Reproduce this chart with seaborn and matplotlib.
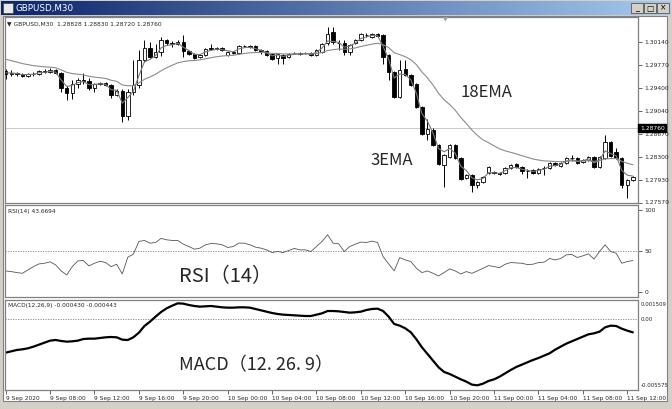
import numpy as np
import pandas as pd
import matplotlib.pyplot as plt
import seaborn as sns
from matplotlib.patches import Rectangle
from matplotlib.colors import LinearSegmentedColormap


# GBPUSD M30, 9 Sep 04:00 .. 11 Sep 12:30 (114 bars)
opens = [
    1.29674, 1.29626, 1.29642, 1.29626, 1.29594, 1.29626, 1.29626, 1.29674, 1.29658, 1.29690,
    1.29642, 1.29402, 1.29322, 1.29466, 1.29530, 1.29522, 1.29402, 1.29466, 1.29482, 1.29450,
    1.29290, 1.29354, 1.28954, 1.29338, 1.29450, 1.29850, 1.30042, 1.29898, 1.29978, 1.30170,
    1.30122, 1.30106, 1.30138, 1.29994, 1.29946, 1.29898, 1.29930, 1.30042, 1.30026, 1.30042,
    1.29930, 1.29978, 1.29962, 1.30074, 1.30074, 1.30074, 1.30010, 1.29994, 1.29946, 1.29882,
    1.29930, 1.29898, 1.29962, 1.29962, 1.29962, 1.29962, 1.29930, 1.29978, 1.30122, 1.30298,
    1.30122, 1.30122, 1.29978, 1.30122, 1.30170, 1.30250, 1.30218, 1.30266, 1.30250, 1.29930,
    1.29658, 1.29258, 1.29706, 1.29610, 1.29466, 1.29098, 1.28666, 1.28730, 1.28490, 1.28170,
    1.28298, 1.28490, 1.28282, 1.27962, 1.28010, 1.27850, 1.27898, 1.28042, 1.28058, 1.28042,
    1.28042, 1.28122, 1.28186, 1.28138, 1.28074, 1.28090, 1.28042, 1.28122, 1.28122, 1.28202,
    1.28154, 1.28202, 1.28282, 1.28282, 1.28218, 1.28250, 1.28298, 1.28138, 1.28282, 1.28538,
    1.28378, 1.28282, 1.27850, 1.27930,
]
highs = [
    1.29706, 1.29690, 1.29658, 1.29642, 1.29642, 1.29658, 1.29690, 1.29706, 1.29722, 1.29706,
    1.29658, 1.29434, 1.29530, 1.29562, 1.29642, 1.29562, 1.29482, 1.29498, 1.29498, 1.29466,
    1.29386, 1.29386, 1.29386, 1.29850, 1.30010, 1.30170, 1.30138, 1.30106, 1.30218, 1.30186,
    1.30154, 1.30170, 1.30250, 1.30010, 1.29962, 1.29946, 1.30042, 1.30106, 1.30058, 1.30058,
    1.29994, 1.29994, 1.30090, 1.30090, 1.30090, 1.30090, 1.30026, 1.30010, 1.29962, 1.29962,
    1.29946, 1.29962, 1.29978, 1.29978, 1.29978, 1.29978, 1.30026, 1.30122, 1.30378, 1.30378,
    1.30170, 1.30170, 1.30106, 1.30186, 1.30282, 1.30282, 1.30282, 1.30282, 1.30266, 1.29946,
    1.29674, 1.29850, 1.29850, 1.29626, 1.29482, 1.29114, 1.28906, 1.28762, 1.28506, 1.28346,
    1.28506, 1.28506, 1.28298, 1.28026, 1.28026, 1.27914, 1.27994, 1.28154, 1.28074, 1.28058,
    1.28138, 1.28186, 1.28202, 1.28154, 1.28106, 1.28106, 1.28122, 1.28154, 1.28218, 1.28218,
    1.28218, 1.28298, 1.28330, 1.28298, 1.28266, 1.28314, 1.28314, 1.28314, 1.28650, 1.28554,
    1.28442, 1.28298, 1.27946, 1.27994,
]
lows = [
    1.29546, 1.29594, 1.29594, 1.29578, 1.29578, 1.29594, 1.29610, 1.29642, 1.29642, 1.29626,
    1.29338, 1.29210, 1.29226, 1.29402, 1.29466, 1.29370, 1.29338, 1.29450, 1.29434, 1.29242,
    1.29274, 1.28858, 1.28890, 1.29290, 1.29402, 1.29818, 1.29882, 1.29882, 1.29914, 1.30090,
    1.30058, 1.30090, 1.29898, 1.29930, 1.29866, 1.29882, 1.29914, 1.30010, 1.30010, 1.29994,
    1.29914, 1.29946, 1.29946, 1.30058, 1.30042, 1.29994, 1.29946, 1.29914, 1.29850, 1.29786,
    1.29786, 1.29882, 1.29946, 1.29930, 1.29946, 1.29914, 1.29914, 1.29962, 1.30090, 1.30106,
    1.30010, 1.29930, 1.29930, 1.30106, 1.30154, 1.30218, 1.30202, 1.30218, 1.29786, 1.29530,
    1.29242, 1.29242, 1.29594, 1.29434, 1.29082, 1.28650, 1.28570, 1.28474, 1.28170, 1.27818,
    1.28282, 1.28266, 1.27930, 1.27946, 1.27738, 1.27802, 1.27882, 1.28026, 1.28026, 1.28010,
    1.28026, 1.28106, 1.28122, 1.28026, 1.27962, 1.28026, 1.28026, 1.28010, 1.28106, 1.28154,
    1.28138, 1.28186, 1.28234, 1.28186, 1.28202, 1.28234, 1.28122, 1.28122, 1.28266, 1.28298,
    1.28266, 1.27802, 1.27642, 1.27914,
]
closes = [
    1.29626, 1.29642, 1.29626, 1.29594, 1.29626, 1.29622, 1.29674, 1.29658, 1.29690, 1.29642,
    1.29402, 1.29322, 1.29466, 1.29530, 1.29522, 1.29402, 1.29466, 1.29482, 1.29450, 1.29290,
    1.29354, 1.28954, 1.29338, 1.29450, 1.29850, 1.30042, 1.29898, 1.29978, 1.30170, 1.30122,
    1.30106, 1.30138, 1.29994, 1.29946, 1.29882, 1.29930, 1.30026, 1.30026, 1.30042, 1.30010,
    1.29978, 1.29962, 1.30074, 1.30070, 1.30058, 1.30010, 1.29978, 1.29930, 1.29866, 1.29946,
    1.29882, 1.29946, 1.29958, 1.29946, 1.29958, 1.29930, 1.30010, 1.30106, 1.30266, 1.30138,
    1.30118, 1.29978, 1.30090, 1.30170, 1.30266, 1.30246, 1.30266, 1.30234, 1.29898, 1.29658,
    1.29258, 1.29690, 1.29610, 1.29450, 1.29098, 1.28666, 1.28746, 1.28490, 1.28186, 1.28330,
    1.28490, 1.28282, 1.27946, 1.28010, 1.27850, 1.27898, 1.27978, 1.28138, 1.28042, 1.28026,
    1.28122, 1.28170, 1.28138, 1.28074, 1.28070, 1.28042, 1.28106, 1.28118, 1.28202, 1.28170,
    1.28202, 1.28282, 1.28278, 1.28202, 1.28250, 1.28298, 1.28138, 1.28298, 1.28538, 1.28314,
    1.28282, 1.27850, 1.27930, 1.27978,
]

# EMA values just before the first visible bar
ema3_start = 1.29660
ema18_start = 1.29890

rsi14 = [
    25.4, 24.6, 23.4, 22.5, 26.6, 30.7, 34.0, 34.8, 36.5, 32.8,
    25.4, 20.5, 30.7, 37.7, 38.1, 31.6, 34.8, 37.3, 35.7, 30.7,
    33.6, 21.7, 42.2, 45.9, 61.5, 62.7, 59.4, 60.2, 65.2, 63.5,
    62.7, 62.7, 58.2, 55.3, 52.0, 53.3, 57.4, 59.0, 58.6, 57.4,
    54.1, 55.3, 59.4, 59.4, 57.4, 54.5, 53.3, 51.2, 47.9, 49.2,
    47.9, 50.4, 52.9, 51.2, 51.2, 49.2, 55.3, 61.5, 69.7, 59.4,
    58.6, 49.2, 55.3, 58.2, 60.7, 60.2, 61.9, 60.2, 43.0, 34.0,
    25.4, 41.8, 38.9, 36.9, 28.7, 23.4, 25.4, 22.5, 19.3, 23.4,
    27.9, 25.4, 21.7, 24.6, 22.5, 25.4, 28.7, 32.0, 30.7, 29.5,
    33.6, 35.7, 35.2, 34.8, 33.2, 33.6, 35.7, 36.1, 40.6, 38.9,
    40.6, 45.1, 45.5, 41.8, 43.9, 46.3, 39.8, 49.2, 57.4, 49.2,
    47.1, 34.8, 36.9, 38.1,
]

macd = [
    -0.002635, -0.002530, -0.002425, -0.002373, -0.002294, -0.002163, -0.002006, -0.001848, -0.001691, -0.001639,
    -0.001717, -0.001770, -0.001743, -0.001691, -0.001560, -0.001534, -0.001534, -0.001481, -0.001429, -0.001402,
    -0.001429, -0.001612, -0.001639, -0.001429, -0.001061, -0.000537, -0.000196, 0.000198, 0.000565, 0.000853,
    0.001063, 0.001247, 0.001221, 0.001116, 0.001037, 0.000985, 0.001011, 0.001037, 0.000985, 0.000932,
    0.000906, 0.000906, 0.000932, 0.000932, 0.000906, 0.000801, 0.000696, 0.000591, 0.000486, 0.000407,
    0.000355, 0.000329, 0.000303, 0.000276, 0.000250, 0.000250, 0.000355, 0.000460, 0.000643, 0.000643,
    0.000617, 0.000565, 0.000512, 0.000539, 0.000591, 0.000722, 0.000801, 0.000827, 0.000643, 0.000198,
    -0.000379, -0.000511, -0.000720, -0.001035, -0.001586, -0.002216, -0.002740, -0.003265, -0.003789, -0.004157,
    -0.004314, -0.004524, -0.004734, -0.004917, -0.005153, -0.005206, -0.005075, -0.004865, -0.004734, -0.004524,
    -0.004262, -0.004000, -0.003763, -0.003580, -0.003396, -0.003212, -0.003055, -0.002871, -0.002688, -0.002399,
    -0.002163, -0.001927, -0.001743, -0.001560, -0.001376, -0.001193, -0.001114, -0.000983, -0.000642, -0.000511,
    -0.000537, -0.000747, -0.000904, -0.001035,
]

time_labels = ['9 Sep 2020', '9 Sep 08:00', '9 Sep 12:00', '9 Sep 16:00', '9 Sep 20:00',
               '10 Sep 00:00', '10 Sep 04:00', '10 Sep 08:00', '10 Sep 12:00', '10 Sep 16:00',
               '10 Sep 20:00', '11 Sep 00:00', '11 Sep 04:00', '11 Sep 08:00', '11 Sep 12:00']
price_ticks = [1.30140, 1.29770, 1.29400, 1.29040, 1.28670, 1.28300, 1.27930, 1.27570]
rsi_ticks = [100, 50, 0]
last_price = 1.28760


def ema(values, start, period):
    k = 2 / (period + 1)
    out = []
    e = start
    for v in values:
        e = e + k * (v - e)
        out.append(e)
    return out


df = pd.DataFrame({'bar': np.arange(len(closes)), 'open': opens, 'high': highs,
                   'low': lows, 'close': closes, 'rsi': rsi14, 'macd': macd})
df['ema3'] = ema(df['close'], ema3_start, 3)
df['ema18'] = ema(df['close'], ema18_start, 18)

sns.set_style('white')
plt.rcParams['font.family'] = ['DejaVu Sans']

W, H = 672, 409


def box(x0, y0, x1, y1):
    return [x0 / W, 1 - y1 / H, (x1 - x0) / W, (y1 - y0) / H]


fig = plt.figure(figsize=(W / 100, H / 100), dpi=100)
fig.patch.set_facecolor('#d4d0c8')

# window title bar
tb = fig.add_axes(box(1, 1, 671, 15))
cmap = LinearSegmentedColormap.from_list('cap', ['#0a246a', '#a6caf0'])
tb.imshow(np.linspace(0, 1, 256).reshape(1, -1), aspect='auto', cmap=cmap, extent=[0, 1, 0, 1])
tb.set_axis_off()
fig.add_artist(Rectangle((3 / W, 1 - 13 / H), 10 / W, 10 / H, transform=fig.transFigure,
                         facecolor='#e8e8e8', edgecolor='#404040', lw=0.5))
fig.text(16 / W, 1 - 8 / H, 'GBPUSD,M30', color='white', fontsize=6.3, va='center')
for x0, sym in [(631, '_'), (644, '□'), (657, '×')]:
    fig.add_artist(Rectangle((x0 / W, 1 - 13 / H), 12 / W, 10 / H, transform=fig.transFigure,
                             facecolor='#d4d0c8', edgecolor='#404040', lw=0.5))
    fig.text((x0 + 6) / W, 1 - 8 / H, sym, color='black', fontsize=5.5, ha='center', va='center')

# white chart area, behind the panels
fig.add_artist(Rectangle((3 / W, 1 - 401 / H), 664 / W, 385 / H, transform=fig.transFigure,
                         facecolor='white', edgecolor='#808080', lw=0.8, zorder=-1))

xlim = (-0.126, 113.93)
price = fig.add_axes(box(5, 17, 638, 203))
rsi = fig.add_axes(box(5, 205, 638, 297))
mac = fig.add_axes(box(5, 300, 638, 390))

for ax in (price, rsi, mac):
    ax.set_facecolor('white')
    ax.set_xlim(*xlim)
    for s in ax.spines.values():
        s.set_color('#808080')
        s.set_linewidth(0.9)
    ax.yaxis.tick_right()
    ax.tick_params(axis='y', direction='out', length=3, width=0.5, labelsize=4.3,
                   pad=1.5, right=True, left=False, labelright=True, labelleft=False)

# candles
up = df['close'] >= df['open']
price.vlines(df['bar'], df['low'], df['high'], color='black', lw=0.7, zorder=2)
price.bar(df['bar'][up], (df['close'] - df['open'])[up], bottom=df['open'][up], width=0.62,
          color='white', edgecolor='black', lw=0.6, zorder=3)
price.bar(df['bar'][~up], (df['close'] - df['open'])[~up], bottom=df['open'][~up], width=0.62,
          color='black', edgecolor='black', lw=0.6, zorder=3)
sns.lineplot(data=df, x='bar', y='ema18', ax=price, color='#8c8c8c', lw=0.8, zorder=4)
sns.lineplot(data=df, x='bar', y='ema3', ax=price, color='#7a7a7a', lw=0.8, zorder=4)
price.axhline(last_price, color='#c8c8c8', lw=0.7, zorder=1)
price.set_ylim(1.27562, 1.30538)
price.set_yticks(price_ticks)
price.set_yticklabels([f'{v:.5f}' for v in price_ticks])
price.set_xticks([])
price.set_xlabel('')
price.set_ylabel('')
price.text(1.003, last_price, f'{last_price:.5f}', transform=price.get_yaxis_transform(),
           color='white', fontsize=4.3, va='center', ha='left', zorder=10,
           bbox=dict(boxstyle='square,pad=0.25', facecolor='black', edgecolor='black'))

# RSI
rsi.axhline(50, color='#808080', lw=0.6, ls=(0, (1.5, 1.5)))
sns.lineplot(data=df, x='bar', y='rsi', ax=rsi, color='#555555', lw=0.6)
rsi.set_ylim(-6.5, 106.1)
rsi.set_yticks(rsi_ticks)
rsi.set_yticklabels([str(v) for v in rsi_ticks])
rsi.set_xticks([])
rsi.set_xlabel('')
rsi.set_ylabel('')

# MACD
mac.axhline(0, color='#808080', lw=0.6, ls=(0, (1.5, 1.5)))
sns.lineplot(data=df, x='bar', y='macd', ax=mac, color='black', lw=1.6)
mac.set_ylim(-0.005575, 0.001509)
mac.set_yticks([])
mac.set_xlabel('')
mac.set_ylabel('')
for frac, lab in [(0.945, '0.001509'), (0.787, '0.00'), (0.045, '-0.005575')]:
    mac.text(1.004, frac, lab, transform=mac.transAxes, fontsize=3.9, va='center', ha='left')
mac.set_xticks(df['bar'][::8])
mac.set_xticklabels(time_labels)
mac.tick_params(axis='x', direction='out', length=3, width=0.5, labelsize=4.2, pad=1.5, bottom=True)
for lbl in mac.get_xticklabels():
    lbl.set_ha('left')

# header lines and annotations
fig.text(7 / W, 1 - 24 / H, '▼ GBPUSD,M30  1.28828 1.28830 1.28720 1.28760', fontsize=4.3, va='center')
fig.text(8 / W, 1 - 211 / H, 'RSI(14) 43.6694', fontsize=4.2, va='center')
fig.text(8 / W, 1 - 305 / H, 'MACD(12,26,9) -0.000430 -0.000443', fontsize=4.2, va='center')
fig.text(445 / W, 1 - 20 / H, '▼', color='#a0a0a0', fontsize=4.5, ha='center', va='center')

big = ['Noto Sans CJK JP', 'DejaVu Sans']
fig.text(486 / W, 1 - 92.5 / H, '18EMA', family=big, fontsize=12, ha='center', va='center')
fig.text(391.5 / W, 1 - 160.5 / H, '3EMA', family=big, fontsize=12, ha='center', va='center')
fig.text(226 / W, 1 - 276.5 / H, 'RSI（14）', family=big, fontsize=14.5, ha='center', va='center')
fig.text(256 / W, 1 - 365 / H, 'MACD（12. 26. 9）', family=big, fontsize=13, ha='center', va='center')

fig.savefig('out.png', dpi=100, facecolor=fig.get_facecolor())
